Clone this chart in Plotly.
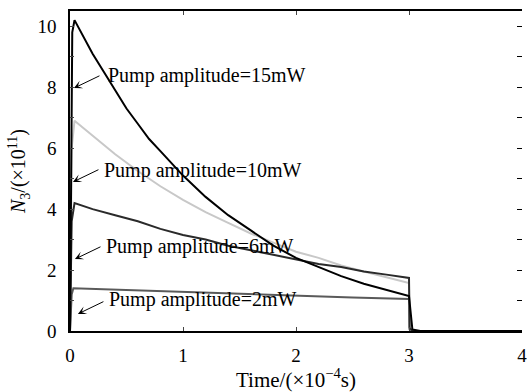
import plotly.graph_objects as go

# 15 mW pump
x15 = [0, 0.005, 0.012, 0.02, 0.04, 0.1, 0.2, 0.3, 0.4, 0.5, 0.6, 0.7, 0.8, 0.9, 1.0,
       1.2, 1.4, 1.6, 1.8, 2.0, 2.2, 2.4, 2.6, 2.8, 3.0, 3.03, 3.1, 4.0]
y15 = [0, 3.0, 8.0, 9.8, 10.2, 9.8, 9.1, 8.5, 7.9, 7.3, 6.8, 6.3, 5.9, 5.5, 5.1,
       4.4, 3.8, 3.3, 2.8, 2.4, 2.1, 1.8, 1.55, 1.35, 1.15, 0.05, 0.0, 0.0]
# 10 mW pump
x10 = [0, 0.006, 0.015, 0.04, 0.2, 0.4, 0.6, 0.8, 1.0, 1.2, 1.4, 1.6, 1.8, 2.0,
       2.2, 2.4, 2.6, 2.8, 3.0, 3.005, 3.03, 4.0]
y10 = [0, 3.0, 6.0, 6.9, 6.4, 5.8, 5.25, 4.75, 4.3, 3.9, 3.55, 3.2, 2.9, 2.6,
       2.4, 2.15, 1.95, 1.75, 1.57, 0.1, 0.0, 0.0]
# 6 mW pump
x6 = [0, 0.006, 0.015, 0.04, 0.2, 0.4, 0.6, 0.8, 1.0, 1.2, 1.4, 1.6, 1.8, 2.0,
      2.2, 2.4, 2.6, 2.8, 3.0, 3.005, 3.03, 4.0]
y6 = [0, 2.0, 3.6, 4.2, 4.0, 3.8, 3.6, 3.35, 3.15, 3.0, 2.8, 2.65, 2.5, 2.35,
      2.2, 2.1, 1.95, 1.85, 1.74, 0.1, 0.0, 0.0]
# 2 mW pump
x2 = [0, 0.006, 0.015, 0.03, 0.5, 1.0, 1.5, 2.0, 2.5, 3.0, 3.005, 3.03, 4.0]
y2 = [0, 0.8, 1.2, 1.4, 1.34, 1.28, 1.22, 1.16, 1.1, 1.05, 0.05, 0.0, 0.0]

labels = ["Pump amplitude=15mW", "Pump amplitude=10mW",
          "Pump amplitude=6mW", "Pump amplitude=2mW"]
label_x = [0.315, 0.28, 0.30, 0.33]
label_y = [8.37, 5.28, 2.76, 1.02]
tip_x = [0.035, 0.026, 0.044, 0.07]
tip_y = [7.97, 4.89, 2.36, 0.56]

yticks = list(range(0, 11))
yticktext = [str(v) if v % 2 == 0 else "" for v in yticks]
xticks = [0, 1, 2, 3, 4]

FONT = "Liberation Serif, Times New Roman, serif"

fig = go.Figure()
fig.add_trace(go.Scatter(x=x2, y=y2, mode="lines", line=dict(color="#5a5a5a", width=2)))
fig.add_trace(go.Scatter(x=x10, y=y10, mode="lines", line=dict(color="#c8c8c8", width=2)))
fig.add_trace(go.Scatter(x=x6, y=y6, mode="lines", line=dict(color="#2a2a2a", width=2)))
fig.add_trace(go.Scatter(x=x15, y=y15, mode="lines", line=dict(color="#000000", width=2)))
# invisible trace so the right-hand tick axis is drawn
fig.add_trace(go.Scatter(x=[0], y=[0], yaxis="y2", mode="lines",
                         line=dict(width=0), hoverinfo="skip"))

for t, lx, ly, tx, ty in zip(labels, label_x, label_y, tip_x, tip_y):
    fig.add_annotation(x=lx, y=ly, xref="x", yref="y", text=t, showarrow=False,
                       xanchor="left", yanchor="middle",
                       font=dict(family=FONT, size=20, color="black"))
    fig.add_annotation(x=tx, y=ty, xref="x", yref="y", text="", showarrow=True,
                       ax=27, ay=-13, arrowhead=3, arrowsize=1.4, arrowwidth=1,
                       arrowcolor="black")

fig.update_layout(
    width=527, height=392,
    margin=dict(l=70, r=0, t=11, b=61),
    paper_bgcolor="white", plot_bgcolor="white",
    showlegend=False,
    font=dict(family=FONT, size=19, color="black"),
    xaxis=dict(range=[0, 4], tickvals=xticks, ticks="inside", ticklen=4,
               showline=True, linecolor="black", linewidth=1.5, mirror="ticks",
               showgrid=False, zeroline=False, ticklabelstandoff=6,
               ticklabeloverflow="allow",
               title=dict(text="Time/(×10<sup>−4</sup>s)", standoff=8,
                          font=dict(family=FONT, size=21))),
    yaxis=dict(range=[0, 10.5], tickvals=yticks, ticktext=yticktext,
               ticks="inside", ticklen=4,
               showline=True, linecolor="black", linewidth=1.5, mirror=False,
               showgrid=False, zeroline=False, ticklabelstandoff=8,
               title=dict(text="<i>N</i><sub>3</sub>/(×10<sup>11</sup>)", standoff=6,
                          font=dict(family=FONT, size=20))),
    yaxis2=dict(range=[0, 10.5], tickvals=yticks, ticks="inside", ticklen=5,
                tickcolor="black", overlaying="y", side="right", anchor="x",
                showline=False, showgrid=False, zeroline=False,
                showticklabels=False),
)

fig.write_html("out.html")
